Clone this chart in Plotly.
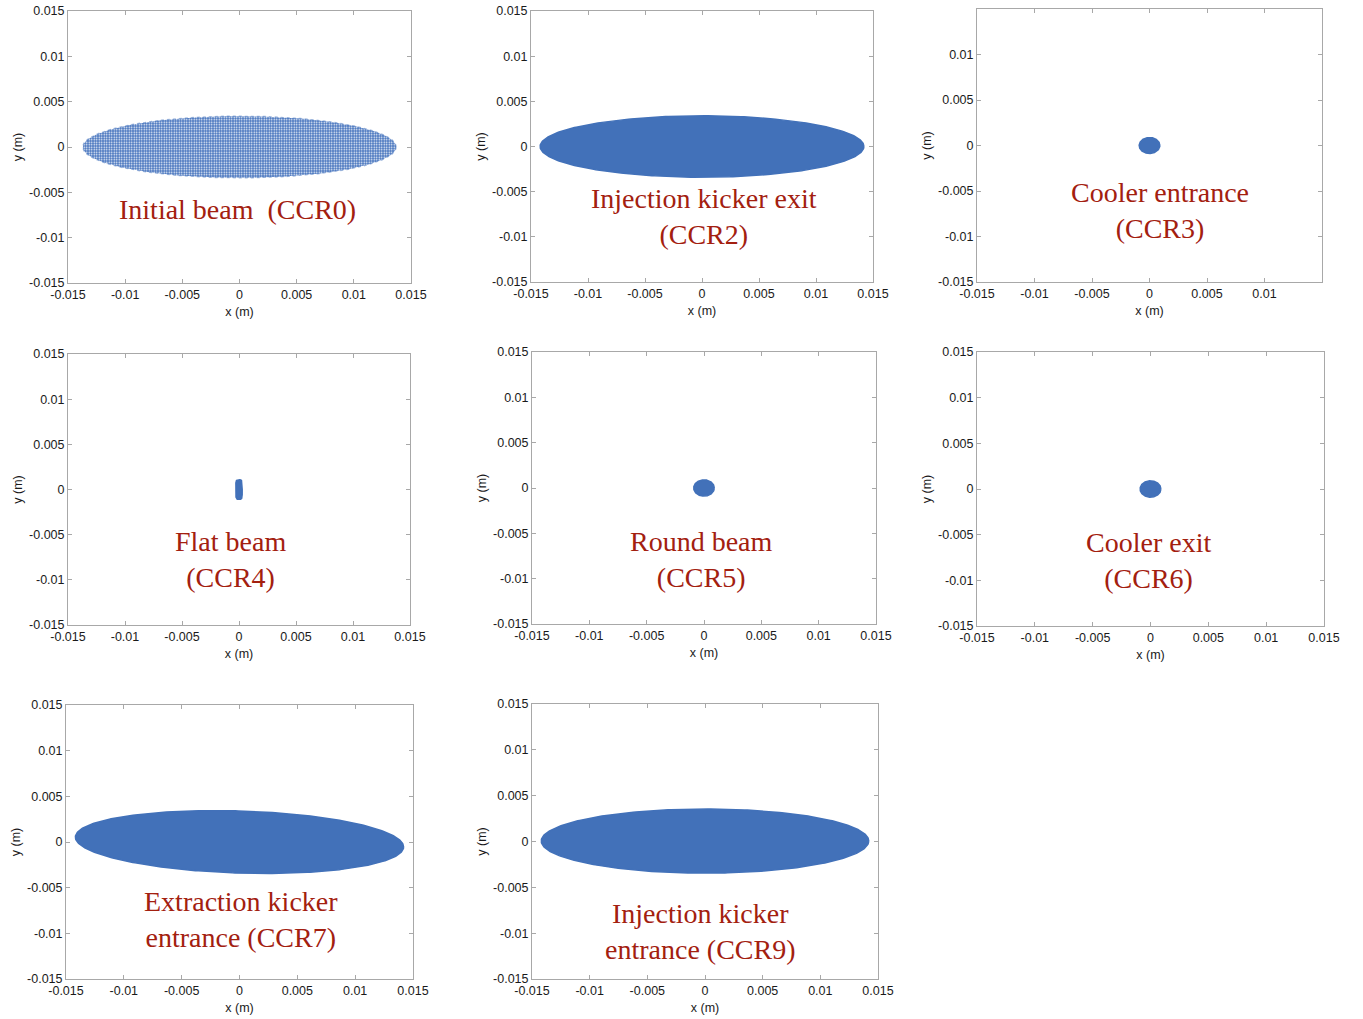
import numpy as np
import plotly.graph_objects as go

# ---------------- data ----------------
beam_labels = ["Initial beam  (CCR0)", "Injection kicker exit<br>(CCR2)", "Cooler entrance<br>(CCR3)",
               "Flat beam<br>(CCR4)", "Round beam<br>(CCR5)", "Cooler exit<br>(CCR6)",
               "Extraction kicker<br>entrance (CCR7)", "Injection kicker<br>entrance (CCR9)"]
# beam envelope (m)
center_x = [0.0, 0.0, 0.0, 0.0, 0.0, 0.0, 0.0, 0.0]
center_y = [0.0, 0.0, 0.0, 0.0, 0.0, 0.0, 0.0, 0.00005]
half_width = [0.0137, 0.0142, 0.0009, 0.00028, 0.0009, 0.0009, 0.0142, 0.0142]
half_height = [0.0034, 0.0034, 0.00088, 0.00108, 0.0009, 0.0009, 0.0034, 0.0035]
tilt_rad = [0.0, 0.0, 0.0, 0.0, 0.0, 0.0, -0.04, 0.0]
shape_power = [2, 2, 2, 5, 2, 2, 2, 2]
# label positions (data coords)
label_x = [-0.0002, 0.0002, 0.0009, -0.00075, -0.0002, -0.0002, 0.0001, -0.00035]
label_y = [-0.0069, -0.0077, -0.0071, -0.0077, -0.0079, -0.0078, -0.0085, -0.0098]

tick_vals = [-0.015, -0.01, -0.005, 0, 0.005, 0.01, 0.015]
tick_text = ["-0.015", "-0.01", "-0.005", "0", "0.005", "0.01", "0.015"]
# ticks shown per panel (panel 3 omits 0.015)
show_top_tick = [True, True, False, True, True, True, True, True]

# ---------------- layout (pixels) ----------------
W, H = 1363, 1019
boxes = [  # left, right, top, bottom
    (68, 411, 11, 283), (531, 873, 11, 282), (977, 1322, 9, 282),
    (68, 410, 354, 625), (532, 876, 352, 624), (977, 1324, 352, 626),
    (66, 413, 705, 979), (532, 878, 704, 979),
]

BLUE = "#4271B9"
RED = "#A3200F"
GRID = "#A8A8A8"
TXT = "#1a1a1a"
SANS = "Liberation Sans, Arial"

fig = go.Figure()
t = np.linspace(0, 2 * np.pi, 361)
annotations = []
layout = {}
for i in range(8):
    k = "" if i == 0 else str(i + 1)
    p = shape_power[i]
    c, s = np.cos(t), np.sin(t)
    ux = half_width[i] * np.sign(c) * np.abs(c) ** (2.0 / p)
    uy = half_height[i] * np.sign(s) * np.abs(s) ** (2.0 / p)
    th = tilt_rad[i]
    xs = center_x[i] + ux * np.cos(th) - uy * np.sin(th)
    ys = center_y[i] + ux * np.sin(th) + uy * np.cos(th)
    tr = dict(x=xs, y=ys, mode="lines", fill="toself", fillcolor=BLUE,
              line=dict(color=BLUE, width=1.5), showlegend=False, hoverinfo="skip",
              xaxis="x" + k, yaxis="y" + k)
    if i == 0:
        tr["fillpattern"] = dict(shape=".", fgcolor="white", bgcolor="#4A77C0",
                                 size=2.5, solidity=0.3, fillmode="replace")
        tr["line"] = dict(color="rgba(74,119,192,0.5)", width=1.5, dash="dot")
    fig.add_trace(go.Scatter(**tr))

    l, r, tp, b = boxes[i]
    vals = tick_vals if show_top_tick[i] else tick_vals[:-1]
    txt = tick_text if show_top_tick[i] else tick_text[:-1]
    common = dict(range=[-0.015, 0.015], showgrid=False, zeroline=False, showline=True,
                  linecolor=GRID, linewidth=1, mirror="ticks", ticks="inside", ticklen=4,
                  tickcolor=GRID, tickwidth=1, tickvals=vals, ticktext=txt, automargin=False,
                  tickfont=dict(family=SANS, size=12.5, color=TXT))
    xa = dict(common)
    xa.update(domain=[l / W, r / W], anchor="y" + k,
              title=dict(text="x (m)", standoff=6, font=dict(family=SANS, size=12.5, color=TXT)))
    ya = dict(common)
    ya.update(domain=[1 - b / H, 1 - tp / H], anchor="x" + k,
              title=dict(text="y (m)", standoff=3, font=dict(family=SANS, size=12.5, color=TXT)))
    layout["xaxis" + k] = xa
    layout["yaxis" + k] = ya
    annotations.append(dict(x=label_x[i], y=label_y[i], xref="x" + k, yref="y" + k,
                            text=beam_labels[i], showarrow=False,
                            font=dict(family="Liberation Serif, Times New Roman", size=28, color=RED)))

fig.update_layout(width=W, height=H, margin=dict(l=0, r=0, t=0, b=0, autoexpand=False),
                  paper_bgcolor="white", plot_bgcolor="white",
                  annotations=annotations, **layout)
fig.write_html("out.html")
